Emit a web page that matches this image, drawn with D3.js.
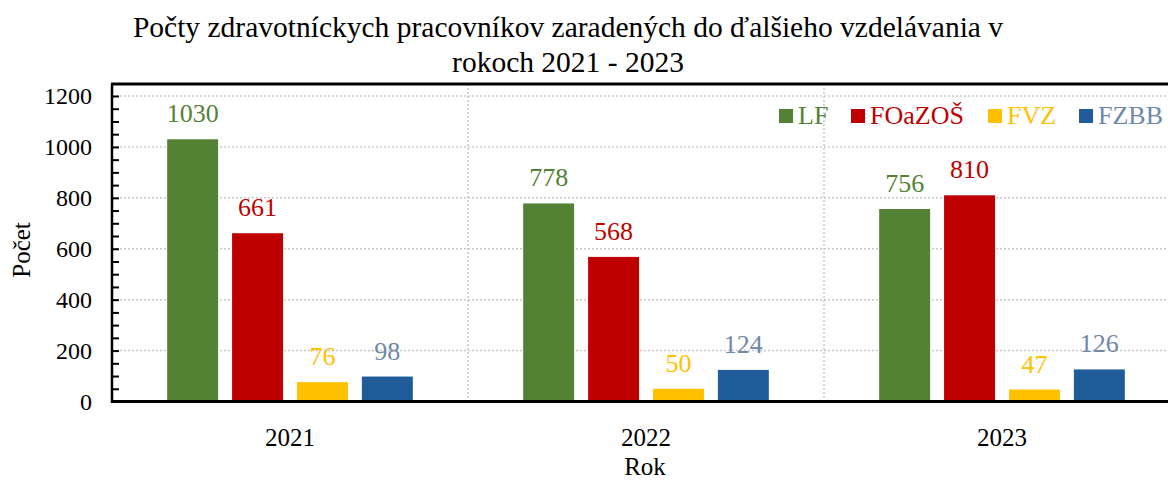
<!DOCTYPE html>
<html>
<head>
<meta charset="utf-8">
<script src="https://cdn.jsdelivr.net/npm/d3@7"></script>
<style>
  body { margin: 0; background: #fff; }
  svg text { font-family: "Liberation Serif", "Times New Roman", serif; }
</style>
</head>
<body>
<script>
// chart data
const years = ['2021', '2022', '2023'];
const seriesNames = ['LF', 'FOaZOŠ', 'FVZ', 'FZBB'];
const lfValues = [1030, 778, 756];
const foazosValues = [661, 568, 810];
const fvzValues = [76, 50, 47];
const fzbbValues = [98, 124, 126];
const yTicks = [0, 200, 400, 600, 800, 1000, 1200];
const titleLines = ['Počty zdravotníckych pracovníkov zaradených do ďalšieho vzdelávania v', 'rokoch 2021 - 2023'];

const barColors = ['#548235', '#c00000', '#ffc000', '#1f5c99'];
const labelColors = ['#548235', '#c00000', '#ffc000', '#6f88a9'];
const serif = '"Liberation Serif", "Times New Roman", serif';

const valuesBySeries = [lfValues, foazosValues, fvzValues, fzbbValues];
const rows = years.map((yr, i) => ({
  year: yr,
  vals: seriesNames.map((s, j) => ({ key: s, idx: j, value: valuesBySeries[j][i] }))
}));

const W = 1168, H = 480;
const plotL = 112, plotR = 1180, plotT = 84, plotB = 401.5;

const svg = d3.select('body').append('svg')
  .attr('width', W)
  .attr('height', H)
  .attr('font-family', serif);

// scales
const x0 = d3.scaleBand().domain(years).range([plotL, plotR]).padding(0);
const x1 = d3.scaleBand().domain(seriesNames).range([0, x0.bandwidth()])
  .paddingInner(0.215).paddingOuter(0.85);
const y = d3.scaleLinear().domain([0, 1200]).range([plotB, 96]);

// grid lines
svg.append('g')
  .selectAll('line')
  .data(yTicks.filter(d => d > 0))
  .join('line')
  .attr('x1', plotL).attr('x2', plotR)
  .attr('y1', d => y(d)).attr('y2', d => y(d))
  .attr('stroke', '#c8c8c8')
  .attr('stroke-width', 1.5)
  .attr('stroke-dasharray', '2,2');

svg.append('g')
  .selectAll('line')
  .data(years.slice(1))
  .join('line')
  .attr('x1', d => x0(d)).attr('x2', d => x0(d))
  .attr('y1', plotT).attr('y2', plotB)
  .attr('stroke', '#c8c8c8')
  .attr('stroke-width', 1.5)
  .attr('stroke-dasharray', '2,2');

// bars
const groups = svg.append('g')
  .selectAll('g')
  .data(rows)
  .join('g')
  .attr('transform', d => `translate(${x0(d.year)},0)`);

groups.selectAll('rect')
  .data(d => d.vals)
  .join('rect')
  .attr('x', d => x1(d.key))
  .attr('y', d => y(d.value))
  .attr('width', x1.bandwidth())
  .attr('height', d => y(0) - y(d.value))
  .attr('fill', d => barColors[d.idx]);

groups.selectAll('text')
  .data(d => d.vals)
  .join('text')
  .attr('x', d => x1(d.key) + x1.bandwidth() / 2)
  .attr('y', d => y(d.value) - 17)
  .attr('text-anchor', 'middle')
  .attr('font-family', serif)
  .attr('font-size', 26)
  .attr('fill', d => labelColors[d.idx])
  .text(d => d.value);

// y axis with ticks every 50, pointing inward
const yAxis = d3.axisRight(y)
  .tickValues(d3.range(0, 1201, 50))
  .tickSize(7)
  .tickFormat('');
svg.append('g')
  .attr('transform', `translate(${plotL},0)`)
  .call(yAxis)
  .call(g => g.select('.domain').remove())
  .call(g => g.selectAll('.tick line').attr('stroke', '#000').attr('stroke-width', 2));

svg.append('g')
  .selectAll('text')
  .data(yTicks)
  .join('text')
  .attr('x', plotL - 20)
  .attr('y', d => y(d))
  .attr('dy', '0.35em')
  .attr('text-anchor', 'end')
  .attr('font-family', serif)
  .attr('font-size', 24)
  .text(d => d);

// x axis labels
const xAxis = d3.axisBottom(x0).tickSize(0).tickPadding(0);
svg.append('g')
  .attr('transform', `translate(0,${plotB})`)
  .call(xAxis)
  .attr('font-family', serif)
  .call(g => g.select('.domain').remove())
  .call(g => g.selectAll('.tick text')
    .attr('y', 44)
    .attr('dy', 0)
    .attr('font-family', serif)
    .attr('font-size', 25)
    .attr('fill', '#000'));

// frame lines
svg.append('line')
  .attr('x1', plotL).attr('x2', plotL).attr('y1', plotT).attr('y2', plotB + 1.5)
  .attr('stroke', '#000').attr('stroke-width', 2.5);
svg.append('line')
  .attr('x1', plotL - 1).attr('x2', plotR).attr('y1', plotT).attr('y2', plotT)
  .attr('stroke', '#000').attr('stroke-width', 3);
svg.append('line')
  .attr('x1', plotL - 1).attr('x2', plotR).attr('y1', plotB).attr('y2', plotB)
  .attr('stroke', '#000').attr('stroke-width', 3);

// titles
svg.append('g')
  .selectAll('text')
  .data(titleLines)
  .join('text')
  .attr('x', 568)
  .attr('y', (d, i) => 37 + i * 35)
  .attr('text-anchor', 'middle')
  .attr('font-family', serif)
  .attr('font-size', 29.5)
  .text(d => d);

svg.append('text')
  .attr('transform', 'translate(30,250) rotate(-90)')
  .attr('text-anchor', 'middle')
  .attr('font-family', serif)
  .attr('font-size', 25)
  .text('Počet');

svg.append('text')
  .attr('x', 645)
  .attr('y', 475)
  .attr('text-anchor', 'middle')
  .attr('font-family', serif)
  .attr('font-size', 25)
  .text('Rok');

// legend
const legendX = [779, 851, 988, 1079];
const legend = svg.append('g')
  .selectAll('g')
  .data(seriesNames)
  .join('g')
  .attr('transform', (d, i) => `translate(${legendX[i]},109)`);
legend.append('rect')
  .attr('width', 14).attr('height', 14)
  .attr('fill', (d, i) => barColors[i]);
legend.append('text')
  .attr('x', 19)
  .attr('y', 14.5)
  .attr('font-family', serif)
  .attr('font-size', 26)
  .attr('fill', (d, i) => labelColors[i])
  .text(d => d);
</script>
</body>
</html>
